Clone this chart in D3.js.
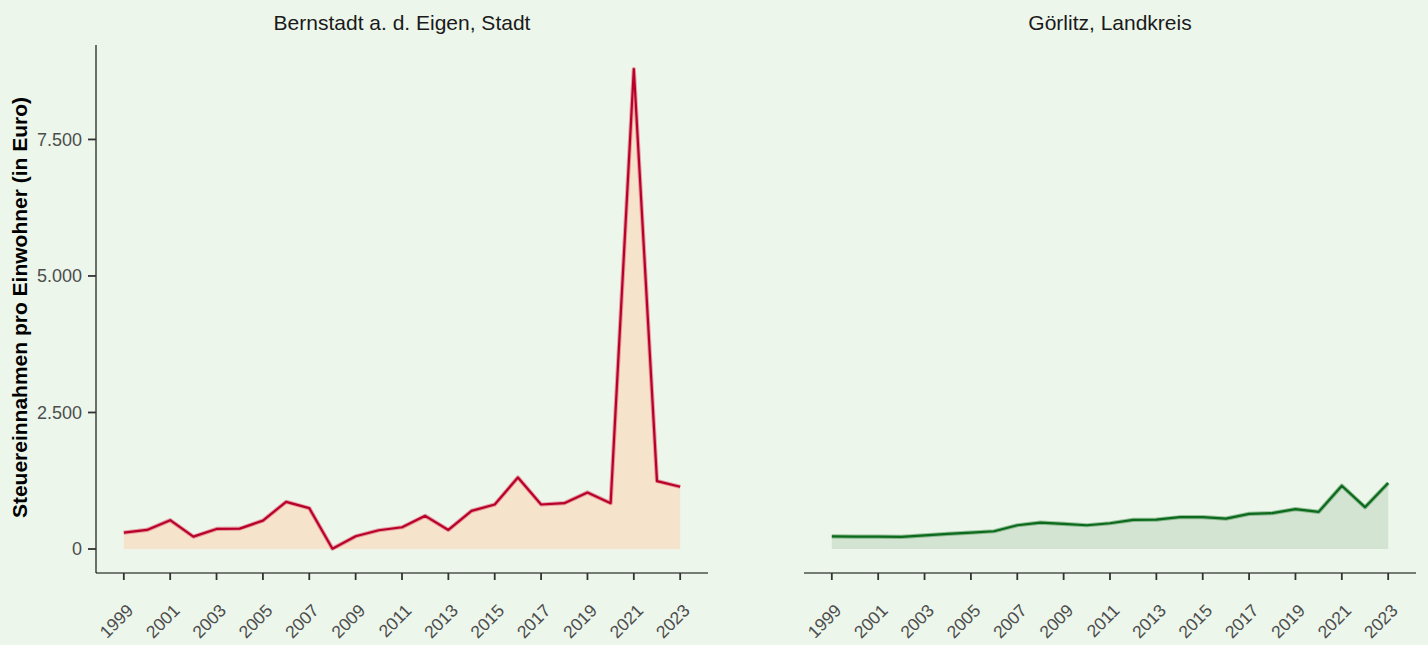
<!DOCTYPE html>
<html>
<head>
<meta charset="utf-8">
<script src="https://cdn.jsdelivr.net/npm/d3@7"></script>
<style>
  body { margin: 0; background: #ecf6eb; }
  svg { display: block; font-family: "Liberation Sans", Arial, sans-serif; }
</style>
</head>
<body>
<div id="chart"></div>
<script>
// Jahre und Steuereinnahmen pro Einwohner
const jahre = d3.range(1999, 2024);
const bernstadt = [300, 349, 527, 226, 367, 373, 520, 864, 748, 6, 233, 343, 398, 607, 349,
                   698, 815, 1310, 815, 840, 1035, 840, 8790, 1244, 1140];
const goerlitz = [233, 226, 226, 222, 251, 276, 300, 325, 435, 484, 460, 435, 472, 533, 539,
                  582, 582, 557, 643, 656, 729, 680, 1158, 766, 1207];
const panelTitel = ["Bernstadt a. d. Eigen, Stadt", "Görlitz, Landkreis"];
const yTicks = [0, 2500, 5000, 7500];
const xTicks = d3.range(1999, 2024, 2);

const W = 1428, H = 645;
const svg = d3.select("#chart").append("svg")
    .attr("width", W).attr("height", H);

svg.append("rect").attr("width", W).attr("height", H).attr("fill", "#ecf6eb");

// gemeinsame y-Skala (ggplot-Stil mit 5% Erweiterung)
const yMax = d3.max(bernstadt.concat(goerlitz));
const pad = yMax * 0.05;
const y = d3.scaleLinear().domain([-pad, yMax + pad]).range([573, 45]);

const fmt = d3.formatLocale({ decimal: ",", thousands: ".", grouping: [3], currency: ["", "€"] }).format(",d");

const panels = [
    { werte: bernstadt, x0: 96, x1: 708, fill: "#f6e3cb", line: "#b8002b", glow: "#dc5a6e" },
    { werte: goerlitz, x0: 804, x1: 1416, fill: "#d3e5d2", line: "#0c6a1c", glow: "#4c9255" }
];

const xpad = (2023 - 1999) * 0.05;

panels.forEach((p, i) => {
    const x = d3.scaleLinear().domain([1999 - xpad, 2023 + xpad]).range([p.x0, p.x1]);
    const daten = jahre.map((j, k) => ({ jahr: j, wert: p.werte[k] }));
    const g = svg.append("g");

    // Fläche
    g.append("path")
        .datum(daten)
        .attr("fill", p.fill)
        .attr("d", d3.area().x(d => x(d.jahr)).y0(y(0)).y1(d => y(d.wert)));

    // Linie mit hellem Rand
    const linie = d3.line().x(d => x(d.jahr)).y(d => y(d.wert));
    g.append("path").datum(daten)
        .attr("fill", "none").attr("stroke", p.glow).attr("stroke-width", 4.2)
        .attr("stroke-opacity", 0.55).attr("stroke-linejoin", "round")
        .attr("d", linie);
    g.append("path").datum(daten)
        .attr("fill", "none").attr("stroke", p.line).attr("stroke-width", 2.2)
        .attr("stroke-linejoin", "round")
        .attr("d", linie);

    // x-Achse
    const xAxis = g.append("g").attr("transform", "translate(0,573)");
    xAxis.append("line").attr("x1", p.x0).attr("x2", p.x1)
        .attr("stroke", "#000").attr("stroke-width", 1.1);
    xTicks.forEach(t => {
        xAxis.append("line").attr("x1", x(t)).attr("x2", x(t)).attr("y1", 0).attr("y2", 7)
            .attr("stroke", "#333").attr("stroke-width", 1.8);
        xAxis.append("text")
            .attr("transform", `translate(${x(t) + 2},${30}) rotate(-45)`)
            .attr("text-anchor", "end")
            .attr("dy", "0.7em")
            .attr("font-size", 17.5)
            .attr("fill", "#4d4d4d")
            .text(t);
    });

    // Titel
    svg.append("text")
        .attr("x", (p.x0 + p.x1) / 2).attr("y", 30)
        .attr("text-anchor", "middle")
        .attr("font-size", 21)
        .attr("fill", "#1a1a1a")
        .text(panelTitel[i]);
});

// y-Achse (nur links)
const yAxis = svg.append("g");
yAxis.append("line").attr("x1", 96).attr("x2", 96).attr("y1", 45).attr("y2", 573)
    .attr("stroke", "#000").attr("stroke-width", 1.1);
yTicks.forEach(t => {
    yAxis.append("line").attr("x1", 88).attr("x2", 96).attr("y1", y(t)).attr("y2", y(t))
        .attr("stroke", "#333").attr("stroke-width", 1.8);
    yAxis.append("text")
        .attr("x", 82).attr("y", y(t)).attr("dy", "0.35em")
        .attr("text-anchor", "end")
        .attr("font-size", 18)
        .attr("fill", "#4d4d4d")
        .text(fmt(t));
});

svg.append("text")
    .attr("transform", `translate(27,${(95 + 520) / 2}) rotate(-90)`)
    .attr("text-anchor", "middle")
    .attr("font-size", 21)
    .attr("font-weight", "bold")
    .attr("fill", "#000")
    .text("Steuereinnahmen pro Einwohner (in Euro)");
</script>
</body>
</html>
